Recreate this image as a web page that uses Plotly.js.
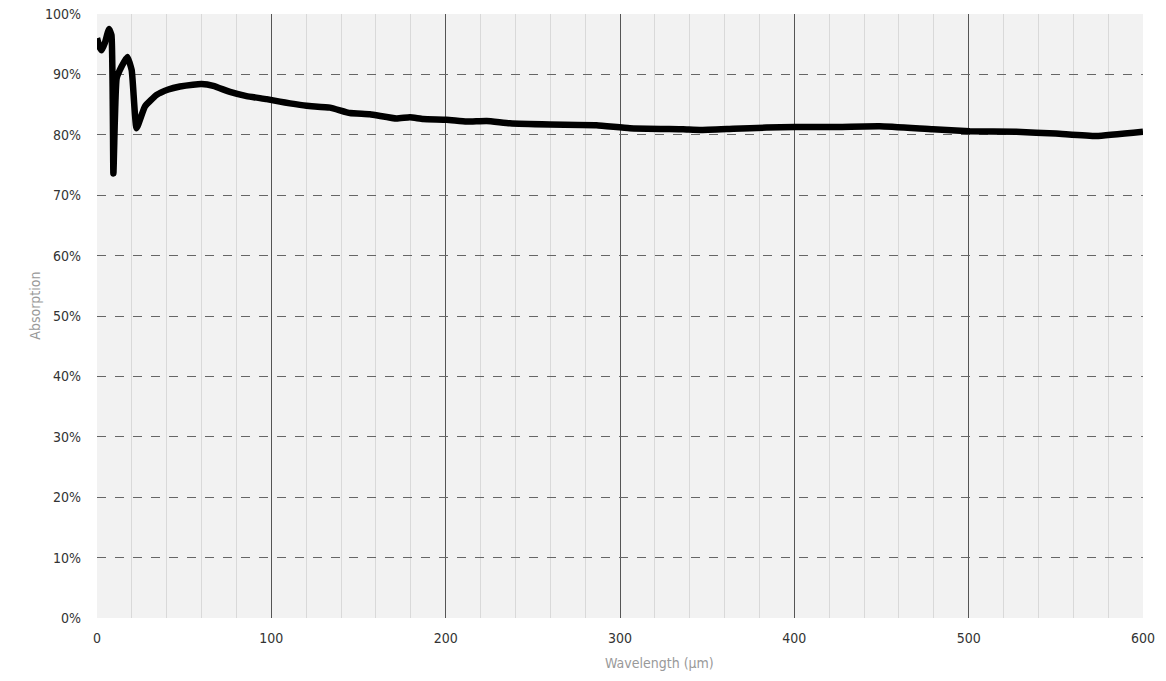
<!DOCTYPE html>
<html>
<head>
<meta charset="utf-8">
<script src="https://cdn.plot.ly/plotly-3.0.1.min.js"></script>
<style>
  html, body { margin: 0; padding: 0; background: #fff; }
  #chart { width: 1166px; height: 681px; }
</style>
</head>
<body>
<div id="chart"></div>
<script>
// wavelength in µm
const wavelength = [
  0, 1.5, 2.7, 4.5, 6.9, 8.3, 9.4, 10.2, 11.3, 14.1, 17.4, 19.9, 22.7, 27.5,
  34.2, 40.9, 47.6, 55, 60, 66.7, 76.3, 85.8, 97.3, 104.9, 110.7, 120.2,
  133.6, 145.1, 156.5, 171.8, 179.5, 187.1, 200.5, 212, 223.5, 236.8, 259.7,
  286.5, 305.6, 336.2, 345.8, 365, 384, 400, 425, 449, 479.5, 500.6, 527.3,
  550, 573.2, 600
];
// absorption in %
const absorption = [
  96, 94.5, 94.0, 95.2, 97.5, 96.5, 73.6, 82, 89.4, 91.3, 92.9, 90.7, 81.1,
  84.7, 86.6, 87.5, 88.0, 88.3, 88.4, 88.1, 87.1, 86.4, 85.9, 85.5, 85.2,
  84.8, 84.5, 83.6, 83.4, 82.7, 82.9, 82.6, 82.5, 82.2, 82.3, 81.9, 81.7,
  81.6, 81.1, 80.9, 80.8, 81.0, 81.2, 81.3, 81.3, 81.4, 80.9, 80.6, 80.5,
  80.2, 79.8, 80.5
];

const yTickVals = [0, 10, 20, 30, 40, 50, 60, 70, 80, 90, 100];
const yTickText = yTickVals.map((v) => v + '%');

const fontFam = '"DejaVu Sans Condensed", "Roboto", sans-serif';
const titleFont = { family: fontFam, size: 14, color: '#999999' };

const trace = {
  type: 'scatter',
  mode: 'lines',
  x: wavelength,
  y: absorption,
  line: { color: '#000000', width: 6.5, shape: 'spline', smoothing: 0.4 },
  hoverinfo: 'skip',
};

const layout = {
  width: 1166,
  height: 681,
  margin: { l: 97, r: 23, t: 14, b: 63 },
  paper_bgcolor: '#ffffff',
  plot_bgcolor: '#f2f2f2',
  showlegend: false,
  font: { family: fontFam, size: 14, color: '#333333' },
  xaxis: {
    range: [0, 600],
    tickvals: [0, 100, 200, 300, 400, 500, 600],
    ticks: '',
    showline: false,
    zeroline: false,
    showgrid: true,
    gridcolor: '#555555',
    gridwidth: 1,
    minor: { dtick: 20, tick0: 0, showgrid: true, gridcolor: '#d9d9d9', gridwidth: 1 },
    ticklabelstandoff: 10,
    tickfont: { family: fontFam, size: 14, color: '#333333' },
  },
  yaxis: {
    range: [0, 100],
    tickvals: yTickVals,
    ticktext: yTickText,
    ticks: '',
    showline: false,
    zeroline: false,
    showgrid: true,
    gridcolor: '#666666',
    gridwidth: 1,
    griddash: 'dash',
    ticklabelstandoff: 15,
    tickfont: { family: fontFam, size: 14, color: '#333333' },
  },
  // axis titles placed as annotations to match the original spacing
  annotations: [
    {
      text: 'Wavelength (µm)',
      xref: 'paper', yref: 'paper',
      x: 0.5373, y: -0.0745,
      xanchor: 'center', yanchor: 'middle',
      showarrow: false,
      font: titleFont,
    },
    {
      text: 'Absorption',
      xref: 'paper', yref: 'paper',
      x: -0.0593, y: 0.517,
      xanchor: 'center', yanchor: 'middle',
      textangle: -90,
      showarrow: false,
      font: titleFont,
    },
  ],
};

Plotly.newPlot('chart', [trace], layout, { displayModeBar: false, staticPlot: true });
</script>
</body>
</html>
